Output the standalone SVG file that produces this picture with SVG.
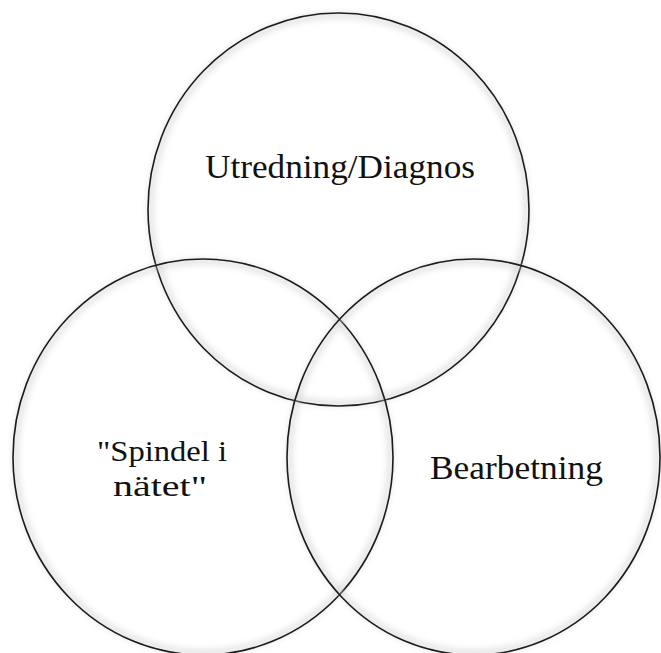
<svg xmlns="http://www.w3.org/2000/svg" width="661" height="653" viewBox="0 0 661 653">
  <defs>
    <filter id="soft" x="-10%" y="-10%" width="120%" height="120%">
      <feGaussianBlur stdDeviation="3"/>
    </filter>
  </defs>
  <style>
    .glow { fill: none; stroke: #c8c8c8; stroke-width: 5; filter: url(#soft); opacity: 0.6; }
    .ring { fill: none; stroke: #1c1c1c; stroke-width: 1.6; }
    .lbl { font-family: "Liberation Serif", "DejaVu Serif", serif; font-size: 34px; fill: #111; }
    .sm { font-size: 30px; }
  </style>
  <rect width="661" height="653" fill="#ffffff"/>
  <g id="node-utredning">
    <ellipse class="glow" cx="338.5" cy="209.5" rx="188" ry="194"/>
    <ellipse class="ring" cx="338.5" cy="209.5" rx="190.5" ry="196.5"/>
    <text class="lbl" x="340" y="178" text-anchor="middle" textLength="270" lengthAdjust="spacingAndGlyphs">Utredning/Diagnos</text>
  </g>
  <g id="node-spindel">
    <ellipse class="glow" cx="203" cy="457" rx="187.5" ry="195.5"/>
    <ellipse class="ring" cx="203" cy="457" rx="190" ry="198"/>
    <text class="lbl sm" x="162" y="461" text-anchor="middle" textLength="130" lengthAdjust="spacingAndGlyphs">"Spindel i</text>
    <text class="lbl sm" x="160" y="496" text-anchor="middle" textLength="94" lengthAdjust="spacingAndGlyphs">nätet"</text>
  </g>
  <g id="node-bearbetning">
    <ellipse class="glow" cx="473.5" cy="457" rx="184" ry="195.5"/>
    <ellipse class="ring" cx="473.5" cy="457" rx="186.5" ry="198"/>
    <text class="lbl" x="516.5" y="479" text-anchor="middle" textLength="173" lengthAdjust="spacingAndGlyphs">Bearbetning</text>
  </g>
  <g id="connectors"></g>
</svg>
